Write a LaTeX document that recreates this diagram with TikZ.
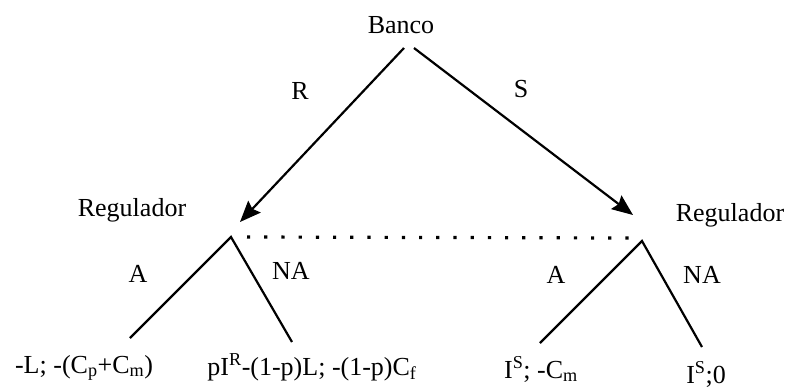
\documentclass[tikz,border=0pt]{standalone}
\usepackage{fontspec}
\setmainfont{Liberation Serif}
\usetikzlibrary{arrows.meta}
\begin{document}
\begin{tikzpicture}[x=1pt,y=-1pt,
  lbl/.style={anchor=base,inner sep=0pt,font=\fontsize{26}{31}\selectfont},
  edge/.style={line width=2.2pt},
  arr/.style={edge,-{Stealth[length=21pt,width=17pt,inset=3pt]}},
  info/.style={line width=3.2pt,dash pattern=on 3.2pt off 14pt,line cap=butt}]
\useasboundingbox (0,0) rectangle (787,389);
% labels
\node[lbl] (banco) at (401,33) {Banco};
\node[lbl] (regL) at (132,216) {Regulador};
\node[lbl] (regR) at (730,221) {Regulador};
\node[lbl] (R) at (300,99) {R};
\node[lbl] (S) at (521,97) {S};
\node[lbl] (AL) at (138,282) {A};
\node[lbl] (NAL) at (291,279) {NA};
\node[lbl] (AR) at (556,283) {A};
\node[lbl] (NAR) at (702,283) {NA};
% leaves
\node[lbl] (l1) at (84,373) {-L; -(C\textsubscript{p}+C\textsubscript{m})};
\node[lbl] (l2) at (312,375) {pI\textsuperscript{R}-(1-p)L; -(1-p)C\textsubscript{f}};
\node[lbl] (l3) at (541,378) {I\textsuperscript{S}; -C\textsubscript{m}};
\node[lbl] (l4) at (706,383) {I\textsuperscript{S};0};
% points
\coordinate (bL) at (404,48);
\coordinate (bR) at (414,48);
\coordinate (tipL) at (240,222);
\coordinate (tipR) at (633,215);
\coordinate (apL) at (231,237);
\coordinate (apR) at (642,241);
\coordinate (e1) at (130,338);
\coordinate (e2) at (292,342);
\coordinate (e3) at (540,343);
\coordinate (e4) at (702,347);
\coordinate (dA) at (247,237);
\coordinate (dB) at (632,238);
% edges
\draw[arr] (bL) -- (tipL);
\draw[arr] (bR) -- (tipR);
\draw[edge] (e1) -- (apL) -- (e2);
\draw[edge] (e3) -- (apR) -- (e4);
\draw[info] (dA) -- (dB);
\end{tikzpicture}
\end{document}
